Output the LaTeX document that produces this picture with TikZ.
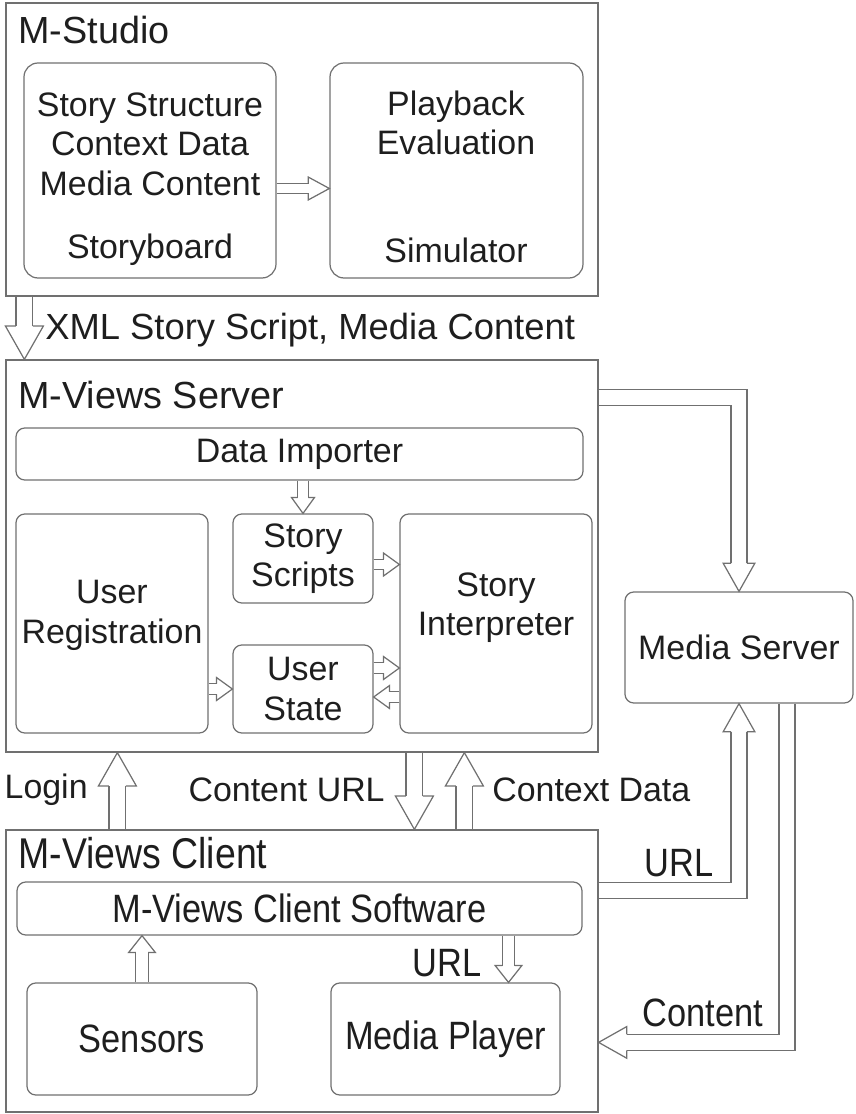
\documentclass[tikz,border=0pt]{standalone}
\usepackage{fontspec}
\setmainfont{Liberation Sans}
\newfontfamily\narrowfont[FakeStretch=0.87]{Liberation Sans}
\usetikzlibrary{calc,fit}
\definecolor{linegray}{HTML}{707070}
\definecolor{textgray}{HTML}{1E1E1E}
\newcommand{\boxfont}{\fontsize{19.3}{22.5}\selectfont}
\newcommand{\titlefont}{\fontsize{21.5}{25}\selectfont}
\newcommand{\xmlfont}{\fontsize{20.7}{24}\selectfont}
\newcommand{\clientfont}{\narrowfont\fontsize{22.5}{25}\selectfont}
\newcommand{\clienttitle}{\narrowfont\fontsize{24.5}{28}\selectfont}
% shaft half width, head half width, head length, double distance
\newcommand{\setarrow}[4]{\def\sw{#1}\def\hw{#2}\def\hl{#3}\def\dd{#4}}
\newcommand{\blockhead}[2]{%
  \coordinate (hb) at ($(#2)!\hl!(#1)$);
  \draw[arrowline] ($(hb)!\sw!90:(#2)$) -- ($(hb)!\hw!90:(#2)$) -- (#2)
    -- ($(hb)!\hw!-90:(#2)$) -- ($(hb)!\sw!-90:(#2)$);}

\begin{document}
\begin{tikzpicture}[x=0.02cm,y=-0.02cm,
  frame/.style={draw=linegray,line width=0.7pt,inner sep=0pt},
  box/.style={frame,rounded corners=5pt},
  big/.style={box,rounded corners=8pt},
  lbl/.style={inner sep=0pt,font=\boxfont,text=textgray,align=center},
  clbl/.style={lbl,font=\clientfont},
  title/.style={inner sep=0pt,font=\titlefont,text=textgray,anchor=west},
  shaft/.style={draw=linegray,line width=0.7pt,double=white,double distance=\dd},
  arrowline/.style={draw=linegray,line width=0.7pt,line join=miter}]
  \useasboundingbox (0,0) rectangle (855,1114);
  % M-Studio
  \node[frame,fit={(6,3) (598,296)}] (studio) {};
  \node[title] (studiot) at (18,30) {M-Studio};
  \node[big,fit={(24,63) (276,278)}] (storyboard) {};
  \node[big,fit={(330,63) (583,278)}] (simulator) {};
  \node[lbl] (sbtext) at (150,144) {Story Structure\\Context Data\\Media Content};
  \node[lbl] (sbname) at (150,250) {Storyboard};
  \node[lbl] (simtext) at (456,123) {Playback\\Evaluation};
  \node[lbl] (simname) at (456,250) {Simulator};
  % M-Views Server
  \node[frame,fit={(6,360) (598,752)}] (server) {};
  \node[title] (servert) at (18,395) {M-Views Server};
  \node[box,fit={(16,428) (583,480)},label={[lbl]center:Data Importer}] (importer) {};
  \node[box,fit={(233,514) (373,603)},label={[lbl]center:{Story\\Scripts}}] (scripts) {};
  \node[box,fit={(16,514) (208,733)}] (registration) {};
  \node[box,fit={(233,645) (373,733)},label={[lbl]center:{User\\State}}] (ustate) {};
  \node[box,fit={(400,514) (592,733)}] (interp) {};
  \node[lbl] (regtext) at ($(registration.center)+(0,-8)$) {User\\Registration};
  \node[lbl] (inttext) at ($(interp.center)+(0,-16)$) {Story\\Interpreter};
  \node[box,fit={(625,592) (853,703)},label={[lbl]center:Media Server}] (mserver) {};
  % M-Views Client
  \node[frame,fit={(6,830) (598,1112)}] (client) {};
  \node[title,font=\clienttitle] (clientt) at (18,853) {M-Views Client};
  \node[box,fit={(17,882) (582,935)},label={[clbl]center:M-Views Client Software}] (software) {};
  \node[box,fit={(27,983) (257,1095)},label={[clbl]center:Sensors}] (sensors) {};
  \node[box,fit={(331,983) (560,1095)},label={[clbl]center:Media Player}] (player) {};
  % small arrows
  \setarrow{2.7pt}{6.5pt}{12pt}{4.7pt}
  \coordinate (sb1) at ($(storyboard.east)+(0,18)$);
  \blockhead{sb1}{simulator.west |- sb1}
  \draw[shaft] (sb1) -- (hb);
  \setarrow{3pt}{6.5pt}{9pt}{5.3pt}
  \blockhead{scripts.north |- importer.south}{scripts.north}
  \draw[shaft] (scripts.north |- importer.south) -- (hb);
  \coordinate (ss1) at ($(scripts.east)+(0,6)$);
  \blockhead{ss1}{interp.west |- ss1}
  \draw[shaft] (ss1) -- (hb);
  \blockhead{registration.east |- ustate.west}{ustate.west}
  \draw[shaft] (registration.east |- ustate.west) -- (hb);
  \coordinate (us1) at ($(ustate.east)+(0,-21)$);
  \blockhead{us1}{interp.west |- us1}
  \draw[shaft] (us1) -- (hb);
  \coordinate (us2) at ($(ustate.east)+(0,8)$);
  \blockhead{interp.west |- us2}{us2}
  \draw[shaft] (interp.west |- us2) -- (hb);
  \setarrow{3.5pt}{7.6pt}{9.6pt}{6.3pt}
  \blockhead{sensors.north}{sensors.north |- software.south}
  \draw[shaft] (sensors.north) -- (hb);
  \coordinate (mp1) at ($(player.north)+(63,0)$);
  \blockhead{mp1 |- software.south}{mp1}
  \draw[shaft] (mp1 |- software.south) -- (hb);
  % arrows between the parts
  \setarrow{4.8pt}{10.8pt}{19pt}{8.9pt}
  \coordinate (x1) at ($(studio.south west)+(19,0)$);
  \blockhead{x1}{x1 |- server.north}
  \draw[shaft] (x1) -- (hb);
  \coordinate (l1) at ($(client.north west)+(112,0)$);
  \blockhead{l1}{l1 |- server.south}
  \draw[shaft] (l1) -- (hb);
  \coordinate (c1) at ($(server.south west)+(409,0)$);
  \blockhead{c1}{c1 |- client.north}
  \draw[shaft] (c1) -- (hb);
  \coordinate (d1) at ($(client.north west)+(459,0)$);
  \blockhead{d1}{d1 |- server.south}
  \draw[shaft] (d1) -- (hb);
  % media server links
  \setarrow{4.5pt}{9pt}{16pt}{8.3pt}
  \coordinate (s1) at ($(server.north east)+(0,38)$);
  \blockhead{mserver.north |- s1}{mserver.north}
  \draw[shaft] (s1) -- (mserver.north |- s1) -- (hb);
  \coordinate (u1) at ($(client.north east)+(0,61)$);
  \blockhead{mserver.south |- u1}{mserver.south}
  \draw[shaft] (u1) -- (mserver.south |- u1) -- (hb);
  \coordinate (m1) at ($(mserver.south)+(48,0)$);
  \coordinate (c2) at ($(client.north east)+(0,213)$);
  \blockhead{m1 |- c2}{c2}
  \draw[shaft] (m1) -- (m1 |- c2) -- (hb);
  % labels
  \node[lbl,font=\xmlfont,anchor=west] (xmllbl) at (45,330) {XML Story Script, Media Content};
  \node[lbl,anchor=east] (loginlbl) at (88,790) {Login};
  \node[lbl,anchor=east] (curllbl) at (385,790) {Content URL};
  \node[lbl,anchor=west] (ctxlbl) at (492,790) {Context Data};
  \node[clbl,anchor=east] (urllbl) at (714,863) {URL};
  \node[clbl,anchor=east] (purllbl) at (482,963) {URL};
  \node[clbl,anchor=west] (contlbl) at (642,1013) {Content};
\end{tikzpicture}
\end{document}
